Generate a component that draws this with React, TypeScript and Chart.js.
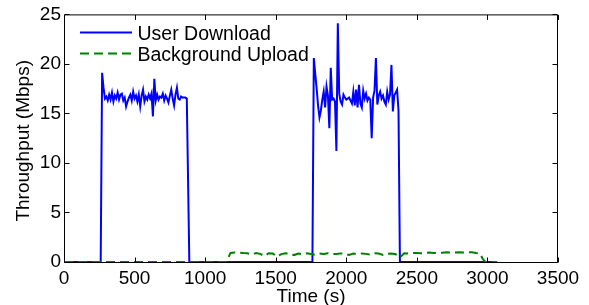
import React, { useEffect, useRef } from "react";
import { Chart, registerables } from "chart.js";

Chart.register(...registerables);

// ---------- data ----------
const xTickValues = [0, 500, 1000, 1500, 2000, 2500, 3000, 3500];
const yTickValues = [0, 5, 10, 15, 20, 25];

const seriesNames = ["User Download", "Background Upload"];

// User Download: first active burst sampled every 10 s starting at 270 s
const burst1Start = 270;
const burst1Values = [
  19.1, 17.6, 16.5, 16.7, 16.3, 16.9, 16.4, 17.1, 16.2, 16.8,
  16.5, 17.1, 16.4, 16.9, 17.0, 16.3, 16.6, 15.7, 16.2, 16.6,
  16.9, 16.3, 17.2, 16.5, 16.8, 16.2, 16.9, 15.7, 16.8, 17.4,
  16.2, 16.7, 16.4, 16.9, 16.5, 17.0, 14.7, 18.5, 16.3, 16.9,
  16.4, 16.7, 16.6, 17.0, 16.3, 16.8, 16.5, 16.1, 16.8, 17.4,
  16.5, 15.8, 16.9, 17.6, 16.5, 16.4, 16.7, 16.6, 16.6, 16.6,
  16.5,
];

// User Download: second active burst sampled every 10 s starting at 1770 s
const burst2Start = 1770;
const burst2Values = [
  20.6, 19.0, 17.5, 15.8, 14.6, 15.3, 16.4, 17.2, 15.6, 17.7,
  16.8, 13.5, 19.6, 16.4, 16.5, 16.2, 11.2, 24.1, 17.0, 16.2,
  15.9, 16.9, 16.6, 16.4, 16.5, 16.6, 16.3, 16.0, 17.2, 15.8,
  17.4, 15.6, 17.9, 16.0, 15.6, 17.3, 16.5, 17.0, 16.3, 16.6,
  16.4, 12.5, 16.6, 17.3, 20.6, 15.9, 16.8, 17.2, 16.5, 16.8,
  16.2, 15.9, 17.2, 16.4, 16.9, 19.9, 15.2, 16.8, 17.1, 17.4,
  15.3,
];
const burstStep = 10;

// idle (zero) points of User Download
const idleTimesBefore = [0, 260];
const idleTimesBetween = [888, 1760];
const idleTimesAfter = [2380, 3040];

// Background Upload
const uploadTimes = [
  0, 1150, 1180, 1210, 1240, 1270, 1300, 1330, 1360, 1390, 1420, 1450, 1480,
  1510, 1540, 1570, 1600, 1630, 1660, 1690, 1720, 1750, 1780, 1810, 1840,
  1870, 1900, 1930, 1960, 1990, 2020, 2050, 2080, 2110, 2140, 2170, 2200,
  2230, 2260, 2290, 2320, 2350, 2380, 2410, 2440, 2470, 2500, 2530, 2560,
  2590, 2620, 2650, 2680, 2710, 2740, 2770, 2800, 2830, 2860, 2890, 2920,
  2950, 2965, 2985, 3070,
];
const uploadValues = [
  0, 0, 0.92, 0.95, 0.93, 0.9, 0.88, 0.75, 0.9, 0.82, 0.6, 0.88, 0.85,
  0.55, 0.8, 0.88, 0.86, 0.7, 0.85, 0.78, 0.88, 0.8, 0.72, 0.85, 0.8,
  0.88, 0.82, 0.8, 0.87, 0.84, 0.7, 0.85, 0.8, 0.86, 0.82, 0.75, 0.88,
  0.85, 0.7, 0.82, 0.86, 0.78, 0.45, 0.88, 0.85, 0.9, 0.92, 0.88, 0.93,
  0.95, 0.92, 0.96, 0.94, 0.98, 0.95, 0.97, 0.99, 0.96, 1.0, 0.98, 0.9,
  0.85, 0.35, 0, 0,
];

// ---------- build tables ----------
const burstPoints = (start: number, vals: number[]) =>
  vals.map((v, i) => ({ x: start + i * burstStep, y: v }));
const zeros = (ts: number[]) => ts.map((t) => ({ x: t, y: 0 }));

const downloadData = [
  ...zeros(idleTimesBefore),
  ...burstPoints(burst1Start, burst1Values),
  ...zeros(idleTimesBetween),
  ...burstPoints(burst2Start, burst2Values),
  ...zeros(idleTimesAfter),
];
const uploadData = uploadTimes.map((t, i) => ({ x: t, y: uploadValues[i] }));

const FONT = "Liberation Sans, Arial, Helvetica, sans-serif";
const BLUE = "#0000ff";
const GREEN = "#008000";
const DASH = [9, 5];

const overlayPlugin = {
  id: "matlabOverlay",
  afterDatasetsDraw(chart: any) {
    const { ctx, chartArea: a, scales } = chart;
    const xs = scales.x;
    const ys = scales.y;
    ctx.save();
    ctx.setLineDash([]);
    ctx.strokeStyle = "#000";
    ctx.lineWidth = 1;
    const xl = a.left + 0.5;
    const xr = a.right - 0.5;
    const yt = a.top + 0.5;
    const yb = a.bottom + 0.5;
    ctx.beginPath();
    ctx.rect(xl, yt, xr - xl, yb - yt);
    ctx.stroke();
    const tl = 5;
    ctx.beginPath();
    xs.ticks.forEach((t: any) => {
      const px = Math.round(xs.getPixelForValue(t.value)) + 0.5;
      ctx.moveTo(px, yb);
      ctx.lineTo(px, yb - tl);
      ctx.moveTo(px, yt);
      ctx.lineTo(px, yt + tl);
    });
    ys.ticks.forEach((t: any) => {
      const py = Math.round(ys.getPixelForValue(t.value)) + 0.5;
      ctx.moveTo(xl, py);
      ctx.lineTo(xl + tl, py);
      ctx.moveTo(xr, py);
      ctx.lineTo(xr - tl, py);
    });
    ctx.stroke();

    // legend
    const ds = chart.data.datasets;
    const rows = [
      { y: 32.5, base: 39.5, color: BLUE, dash: [] as number[], label: ds[0].label },
      { y: 53.5, base: 61, color: GREEN, dash: DASH, label: ds[1].label },
    ];
    ctx.font = `19.5px ${FONT}`;
    ctx.fillStyle = "#000";
    ctx.textAlign = "left";
    ctx.textBaseline = "alphabetic";
    rows.forEach((r) => {
      ctx.beginPath();
      ctx.strokeStyle = r.color;
      ctx.lineWidth = 2;
      ctx.setLineDash(r.dash);
      ctx.moveTo(80, r.y);
      ctx.lineTo(132, r.y);
      ctx.stroke();
      ctx.setLineDash([]);
      ctx.fillText(r.label, 137.5, r.base);
    });

    // axis titles
    ctx.font = `19px ${FONT}`;
    ctx.textAlign = "center";
    ctx.fillText("Time (s)", (a.left + a.right) / 2, 302);
    ctx.save();
    ctx.translate(23.5, 140.8);
    ctx.rotate(-Math.PI / 2);
    ctx.textBaseline = "middle";
    ctx.fillText("Throughput (Mbps)", 0, 0);
    ctx.restore();
    ctx.restore();
  },
};

export default function App() {
  const ref = useRef<HTMLCanvasElement | null>(null);
  useEffect(() => {
    document.body.style.margin = "0";
    const canvas = ref.current;
    if (!canvas) return;
    const chart = new Chart(canvas, {
      type: "line",
      data: {
        datasets: [
          {
            label: seriesNames[0],
            data: downloadData,
            borderColor: BLUE,
            borderWidth: 2,
            pointRadius: 0,
            tension: 0,
            fill: false,
            order: 1,
            clip: 6,
          },
          {
            label: seriesNames[1],
            data: uploadData,
            borderColor: GREEN,
            borderWidth: 2,
            borderDash: DASH,
            pointRadius: 0,
            tension: 0,
            fill: false,
            order: 0,
            clip: 6,
          },
        ],
      },
      options: {
        animation: false,
        responsive: false,
        devicePixelRatio: 1,
        layout: { padding: { left: 0, right: 31, top: 13, bottom: 0 } },
        plugins: {
          legend: { display: false },
          tooltip: { enabled: false },
        },
        scales: {
          x: {
            type: "linear",
            min: 0,
            max: 3500,
            grid: { display: false, drawTicks: false },
            border: { display: false },
            afterBuildTicks: (s: any) => {
              s.ticks = xTickValues.map((v) => ({ value: v }));
            },
            afterFit: (s: any) => {
              s.height = 43;
            },
            ticks: {
              autoSkip: false,
              maxRotation: 0,
              padding: 5,
              color: "#000",
              font: { family: FONT, size: 19 },
              callback: (v: any) => String(v),
            },
          },
          y: {
            type: "linear",
            min: 0,
            max: 25,
            grid: { display: false, drawTicks: false },
            border: { display: false },
            afterBuildTicks: (s: any) => {
              s.ticks = yTickValues.map((v) => ({ value: v }));
            },
            afterFit: (s: any) => {
              s.width = 64;
            },
            ticks: {
              padding: 3,
              color: "#000",
              font: { family: FONT, size: 19 },
              callback: (v: any) => String(v),
            },
          },
        },
      },
      plugins: [overlayPlugin],
    });
    return () => chart.destroy();
  }, []);
  return (
    <canvas
      ref={ref}
      width={589}
      height={305}
      style={{ display: "block", width: 589, height: 305 }}
    />
  );
}
